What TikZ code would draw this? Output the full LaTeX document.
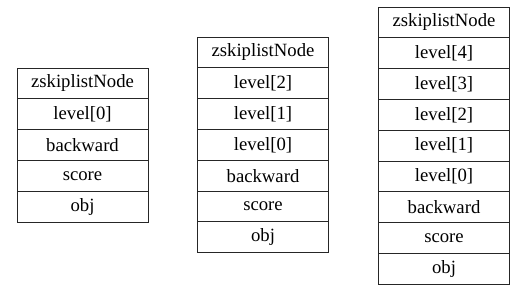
\documentclass[tikz,border=0pt]{standalone}
\usepackage{fontspec}
\setmainfont{Liberation Serif}
\usepackage{tikz}
\usetikzlibrary{positioning}
\tikzset{
  cell/.style={draw=black!85,line width=1pt,minimum width=131pt,minimum height=30.8pt,
    inner sep=0pt,outer sep=0pt,font=\fontsize{18.7}{20}\selectfont}
}

\begin{document}
\begin{tikzpicture}[x=1pt,y=-1pt]
\useasboundingbox (0,0) rectangle (521,301);
\foreach \t [count=\i from 0] in {zskiplistNode,{level[0]},backward,score,obj}{
 \node[cell] (a\i) at (82.5,{83.4+30.8*\i}) {\t};}
\foreach \t [count=\i from 0] in {zskiplistNode,{level[2]},{level[1]},{level[0]},backward,score,obj}{
 \node[cell] (b\i) at (263,{52.4+30.8*\i}) {\t};}
\foreach \t [count=\i from 0] in {zskiplistNode,{level[4]},{level[3]},{level[2]},{level[1]},{level[0]},backward,score,obj}{
 \node[cell] (c\i) at (444,{22.4+30.8*\i}) {\t};}
\end{tikzpicture}
\end{document}
